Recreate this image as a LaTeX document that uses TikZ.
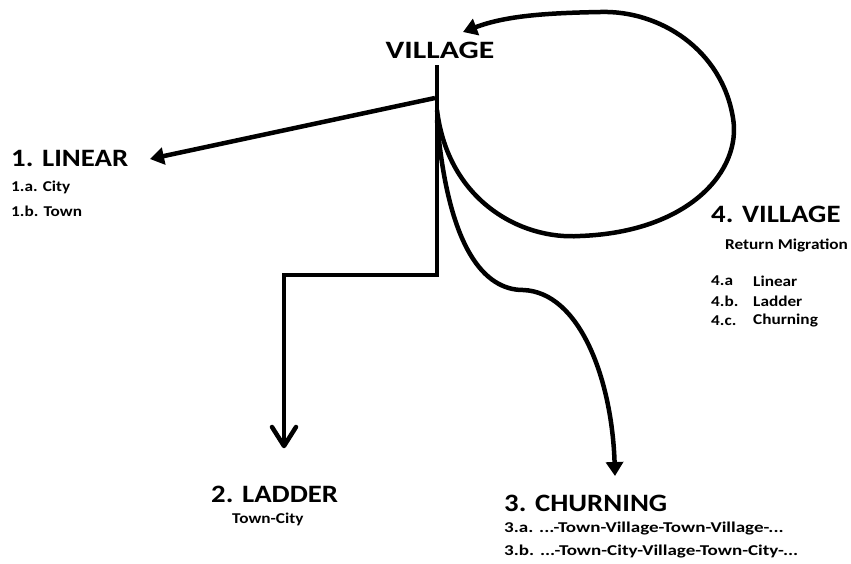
\documentclass[tikz,border=0pt]{standalone}
\usepackage{fontspec}
\setmainfont{Carlito}[FakeStretch=1.15]
\newfontfamily\widefont{Carlito}[FakeStretch=1.27]
\usetikzlibrary{arrows.meta}
\tikzset{
  head/.style={font=\bfseries\fontsize{25}{28}\selectfont, inner sep=0pt, anchor=west},
  item/.style={font=\bfseries\fontsize{15}{17}\selectfont, inner sep=0pt, anchor=west},
  flow/.style={line width=4.5pt, line join=miter},
  tri/.style={-{Triangle[length=14pt, width=17pt]}}
}
\begin{document}
\begin{tikzpicture}[x=1pt, y=-1pt]
\useasboundingbox (0,0) rectangle (851,563);
% labels
\node [font=\widefont\bfseries\fontsize{25}{28}\selectfont, inner sep=0pt] (village) at (440,50) {VILLAGE};
\node [head] (linear) at (11,158) {1. LINEAR};
\node [item] (lina) at (11,187) {1.a. City};
\node [item] (linb) at (11,211) {1.b. Town};
\node [head] (ladder) at (211,494) {2. LADDER};
\node [item] (laddera) at (232,519) {Town-City};
\node [head] (churning) at (504,503) {3. CHURNING};
\node [item, font=\widefont\bfseries\fontsize{15}{17}\selectfont] (churna) at (504,528) {3.a. ...-Town-Village-Town-Village-...};
\node [item, font=\widefont\bfseries\fontsize{15}{17}\selectfont] (churnb) at (504,551) {3.b. ...-Town-City-Village-Town-City-...};
\node [head] (return) at (711,214) {4. VILLAGE};
\node [item] (returna) at (725,245) {Return Migration};
\node [item] (reta) at (711,281) {4.a};
\node [item] (retb) at (711,301) {4.b.};
\node [item] (retc) at (711,321) {4.c.};
\node [item] at (753,281) {Linear};
\node [item] at (753,301) {Ladder};
\node [item] at (753,321) {Churning};
% stem and branches
\coordinate (stemtop) at (437,65);
\coordinate (corner) at (437,275);
\coordinate (step) at (284,275);
\coordinate (ladderend) at (284,446);
\coordinate (barbl) at (272,427);
\coordinate (barbr) at (296,427);
\coordinate (linfork) at (435,98);
\coordinate (linend) at (150,159);
\coordinate (churnfork) at (437,120);
\coordinate (churnend) at (615,476);
\coordinate (loopfork) at (437,110);
\coordinate (loopend) at (463,32);
\draw [flow] (stemtop) -- (corner) -- (step) -- (ladderend);
\draw [flow, line cap=round, line join=round] (barbl) -- (ladderend) -- (barbr);
\draw [flow, tri] (linfork) -- (linend);
\draw [flow, tri] (churnfork) .. controls (448,250) and (485,290) .. (523,290)
  .. controls (580,292) and (612,380) .. (churnend);
\draw [flow, tri] (loopfork) .. controls (448,200) and (520,240) .. (580,236)
  .. controls (690,232) and (742,170) .. (733,118)
  .. controls (722,50) and (660,10) .. (600,12)
  .. controls (545,13) and (505,16) .. (loopend);
\end{tikzpicture}
\end{document}
